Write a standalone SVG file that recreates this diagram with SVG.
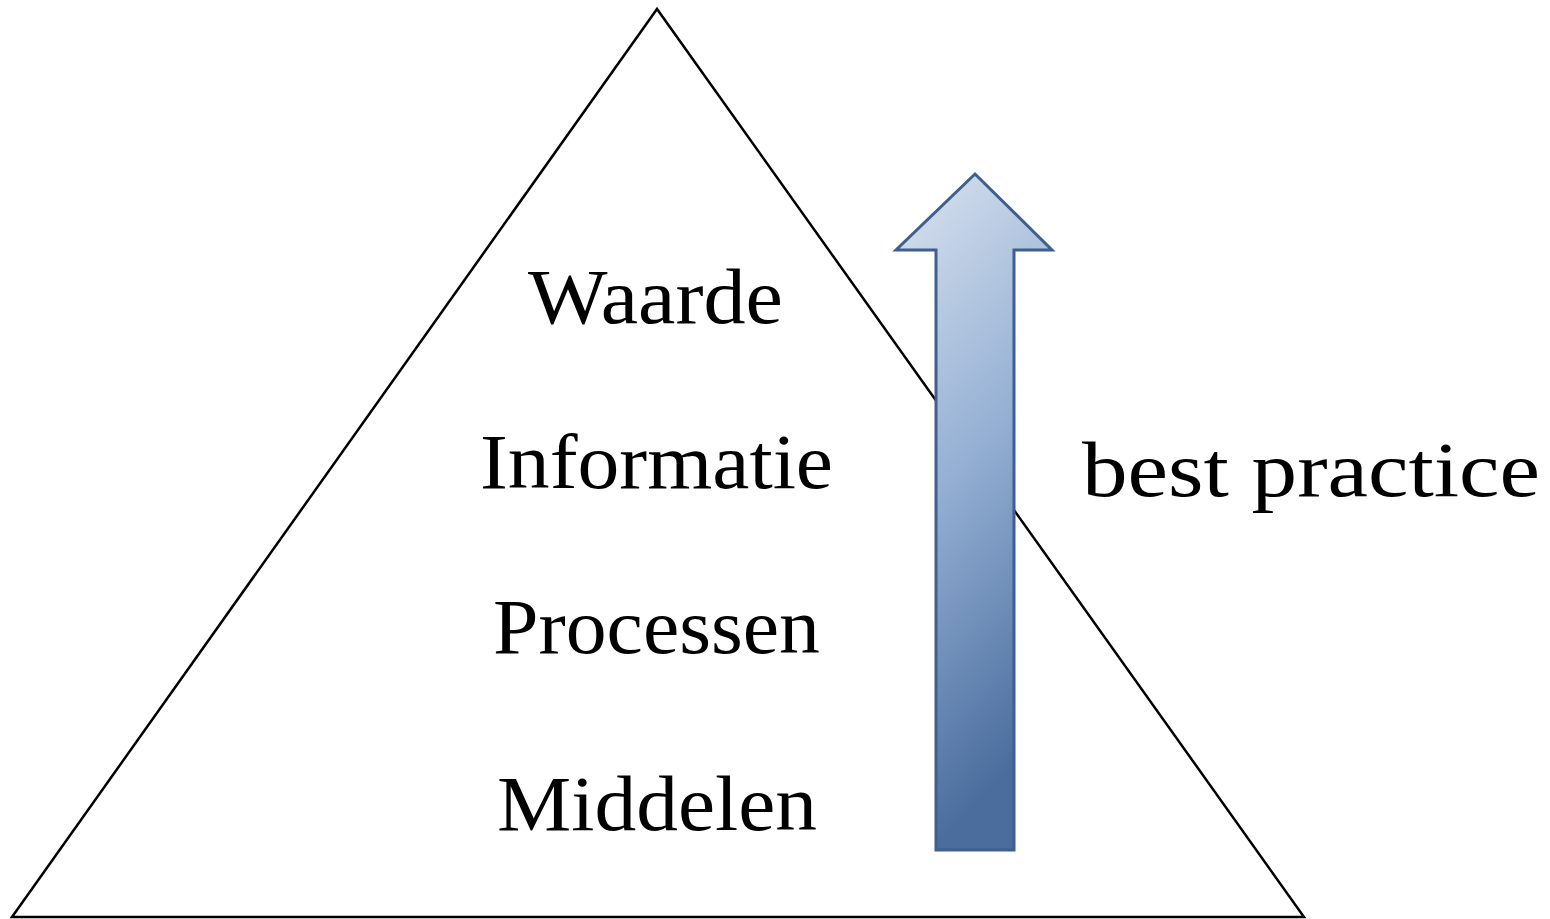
<svg xmlns="http://www.w3.org/2000/svg" width="1550" height="919" viewBox="0 0 1550 919">
<defs>
<style>
.lbl{font-family:"Liberation Serif","DejaVu Serif",serif;font-size:78px;fill:#000;}
</style>
<linearGradient id="arrowGrad" x1="0" y1="0" x2="0.25" y2="1">
<stop offset="0" stop-color="#dbe4f0"/>
<stop offset="0.5" stop-color="#95b0d4"/>
<stop offset="1" stop-color="#4a6d9e"/>
</linearGradient>
</defs>
<rect width="1550" height="919" fill="#fff"/>
<g id="pyramid">
<polygon points="657,9 12,917 1304,917" fill="none" stroke="#000" stroke-width="2.5" stroke-linejoin="miter"/>
</g>
<g id="connectors">
<polygon id="arrow" points="975,174 1052,250 1014,250 1014,850 936,850 936,250 896,250" fill="url(#arrowGrad)" stroke="#3f5f8c" stroke-width="3" stroke-linejoin="miter"/>
</g>
<g id="node-waarde"><text class="lbl" x="528" y="323" textLength="255" lengthAdjust="spacingAndGlyphs">Waarde</text></g>
<g id="node-informatie"><text class="lbl" x="480" y="488" textLength="353" lengthAdjust="spacingAndGlyphs">Informatie</text></g>
<g id="node-processen"><text class="lbl" x="493" y="653" textLength="327" lengthAdjust="spacingAndGlyphs">Processen</text></g>
<g id="node-middelen"><text class="lbl" x="497" y="830" textLength="320" lengthAdjust="spacingAndGlyphs">Middelen</text></g>
<g id="label-best-practice"><text class="lbl" x="1082" y="496" textLength="458" lengthAdjust="spacingAndGlyphs">best practice</text></g>
</svg>
